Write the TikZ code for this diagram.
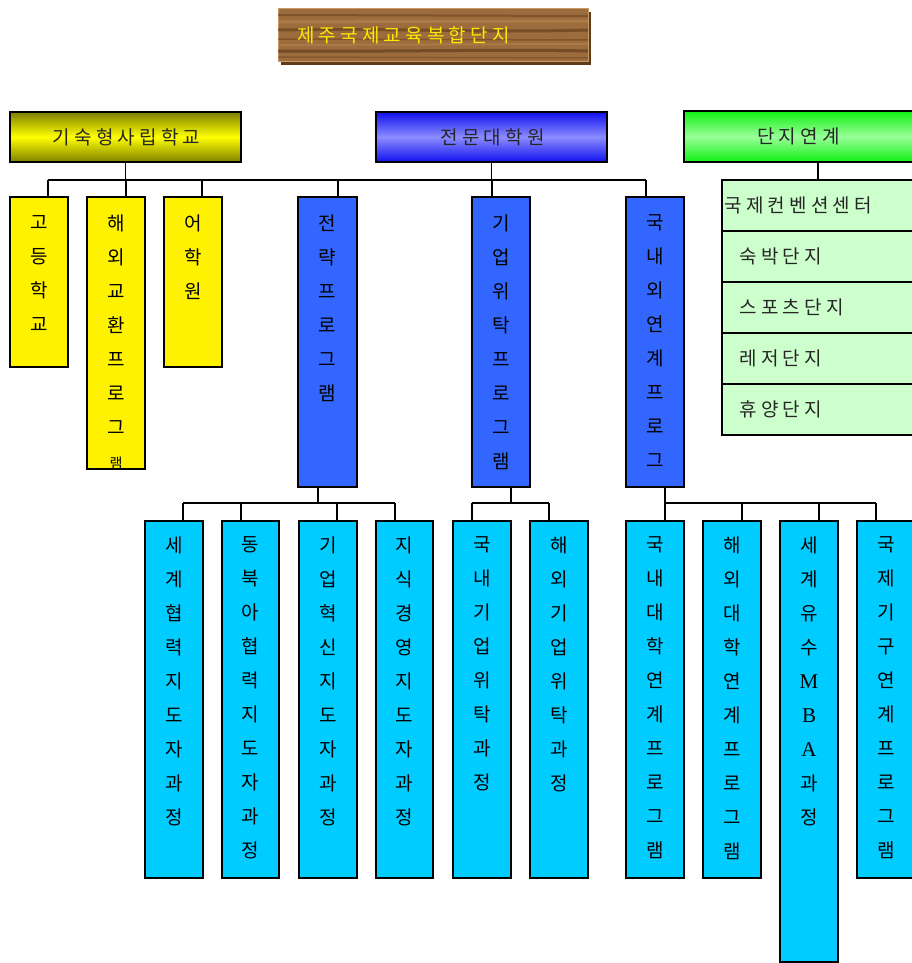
\documentclass[tikz,border=0pt]{standalone}
\usepackage{fontspec}
\setmainfont{Noto Sans CJK KR}
\newfontfamily\latfont{Liberation Serif}
\usetikzlibrary{calc,shadows}
\definecolor{wood}{HTML}{9C6C3C}
\definecolor{wooddark}{HTML}{5E3B1C}
\definecolor{woodlight}{HTML}{C89A66}
\definecolor{olivey}{HTML}{808000}
\definecolor{blueedge}{HTML}{1010F0}
\definecolor{bluemid}{HTML}{8C8CFF}
\definecolor{greenedge}{HTML}{11F011}
\definecolor{greenmid}{HTML}{99FF99}
\definecolor{bluebox}{HTML}{3366FF}
\definecolor{cyanbox}{HTML}{00CCFF}
\definecolor{rowgreen}{HTML}{CCFFCC}
\newcommand\mkbox[6]{\node[#6, minimum width={#4-#2}, minimum height={#5-#3}] (#1) at ({(#2+#4)/2},{(#3+#5)/2}) {};}
\newcommand\latch[1]{{\latfont\fontsize{21}{34}\selectfont #1}}
\begin{document}
\begin{tikzpicture}[x=1pt,y=-1pt,
  boxbase/.style={draw=black, line width=1.3pt, inner sep=0pt, rectangle},
  ybox/.style={boxbase, fill=yellow},
  bbox/.style={boxbase, fill=bluebox},
  cbox/.style={boxbase, fill=cyanbox},
  greenrow/.style={boxbase, fill=rowgreen},
  topy/.style={boxbase, top color=olivey, bottom color=olivey, middle color=yellow},
  topb/.style={boxbase, top color=blueedge, bottom color=blueedge, middle color=bluemid},
  topg/.style={boxbase, top color=greenedge, bottom color=greenedge, middle color=greenmid},
  htext/.style={inner sep=0pt, text=black!85, font=\fontsize{19}{22}\selectfont\addfontfeature{LetterSpace=22}},
  vtext/.style={inner sep=0pt, anchor=north, align=center, font=\fontsize{19}{34}\selectfont},
  conn/.style={draw=black, line width=1.3pt}
]
\useasboundingbox (0,0) rectangle (912,963);
\clip (0,0) rectangle (912,963);

% title
\node[draw=woodlight, line width=1pt, fill=wood, minimum width=310, minimum height=53, inner sep=0pt,
      drop shadow={shadow xshift=3pt, shadow yshift=-3pt, fill=wooddark, opacity=1}] (title) at (433,35.5) {};
\begin{scope}
  \clip (title.south west) rectangle (title.north east);
  \draw[wooddark, line width=2pt, opacity=0.5] (278,15) -- (588,16);
  \draw[woodlight, line width=3pt, opacity=0.35] (278,22) -- (588,21);
  \draw[wooddark, line width=3pt, opacity=0.6] (278,30) .. controls (400,28) and (480,33) .. (588,30);
  \draw[wooddark, line width=1.5pt, opacity=0.45] (278,39) -- (588,40);
  \draw[woodlight, line width=2pt, opacity=0.3] (278,45) -- (588,44);
  \draw[wooddark, line width=3pt, opacity=0.65] (278,51) .. controls (380,52) and (500,49) .. (588,51);
  \draw[wooddark, line width=1.5pt, opacity=0.4] (278,57) -- (588,58);
\end{scope}
\node[inner sep=0pt, anchor=west, text=yellow!90!orange, font=\fontsize{19}{22}\selectfont\addfontfeature{LetterSpace=22}] (titletext) at (297,35.5) {제주국제교육복합단지};

% top row
\mkbox{T1}{10}{112}{241}{162}{topy}
\mkbox{T2}{376}{112}{607}{162}{topb}
\mkbox{T3}{684}{111}{915}{162}{topg}
\node[htext] (T1t) at ([xshift=1pt]T1.center) {기숙형사립학교};
\node[htext] (T2t) at ([xshift=1pt]T2.center) {전문대학원};
\node[htext] (T3t) at ([xshift=-1pt]T3.center) {단지연계};

% second row
\mkbox{Y1}{10}{197}{68}{367}{ybox}
\mkbox{Y2}{87}{197}{145}{469}{ybox}
\mkbox{Y3}{164}{197}{222}{367}{ybox}
\mkbox{B1}{298}{197}{357}{487}{bbox}
\mkbox{B2}{472}{197}{530}{487}{bbox}
\mkbox{B3}{626}{197}{684}{487}{bbox}

\node[vtext] (Y1t) at ($(Y1.north)+(0,18.5)$) {고\\등\\학\\교};
\node[vtext] (Y2t) at ($(Y2.north)+(0,18.5)$) {해\\외\\교\\환\\프\\로\\그\\{\fontsize{14}{34}\selectfont 램}};
\node[vtext] (Y3t) at ($(Y3.north)+(0,18.5)$) {어\\학\\원};
\node[vtext] (B1t) at ($(B1.north)+(0,18.5)$) {전\\략\\프\\로\\그\\램};
\node[vtext] (B2t) at ($(B2.north)+(0,18.5)$) {기\\업\\위\\탁\\프\\로\\그\\램};
\node[vtext] (B3t) at ($(B3.north)+(0,18.5)$) {국\\내\\외\\연\\계\\프\\로\\그};

% green list
\mkbox{G1}{722}{180}{930}{231}{greenrow}
\mkbox{G2}{722}{231}{930}{282}{greenrow}
\mkbox{G3}{722}{282}{930}{333}{greenrow}
\mkbox{G4}{722}{333}{930}{384}{greenrow}
\mkbox{G5}{722}{384}{930}{435}{greenrow}
\node[htext, anchor=west] (G1t) at ($(G1.west)+(3,0)$) {국제컨벤션센터};
\node[htext, anchor=west] (G2t) at ($(G2.west)+(18,0)$) {숙박단지};
\node[htext, anchor=west] (G3t) at ($(G3.west)+(18,0)$) {스포츠단지};
\node[htext, anchor=west] (G4t) at ($(G4.west)+(18,0)$) {레저단지};
\node[htext, anchor=west] (G5t) at ($(G5.west)+(18,0)$) {휴양단지};

% third row
\mkbox{C1}{145}{521}{203}{878}{cbox}
\mkbox{C2}{222}{521}{279}{878}{cbox}
\mkbox{C3}{299}{521}{357}{878}{cbox}
\mkbox{C4}{376}{521}{433}{878}{cbox}
\mkbox{C5}{453}{521}{511}{878}{cbox}
\mkbox{C6}{530}{521}{588}{878}{cbox}
\mkbox{C7}{626}{521}{684}{878}{cbox}
\mkbox{C8}{703}{521}{761}{878}{cbox}
\mkbox{C9}{780}{521}{838}{962}{cbox}
\mkbox{C10}{857}{521}{915}{878}{cbox}

\node[vtext] (C1t) at ($(C1.north)+(0,16.5)$) {세\\계\\협\\력\\지\\도\\자\\과\\정};
\node[vtext] (C2t) at ($(C2.north)+(0,16.5)$) {동\\북\\아\\협\\력\\지\\도\\자\\과\\정};
\node[vtext] (C3t) at ($(C3.north)+(0,16.5)$) {기\\업\\혁\\신\\지\\도\\자\\과\\정};
\node[vtext] (C4t) at ($(C4.north)+(0,16.5)$) {지\\식\\경\\영\\지\\도\\자\\과\\정};
\node[vtext] (C5t) at ($(C5.north)+(0,16.5)$) {국\\내\\기\\업\\위\\탁\\과\\정};
\node[vtext] (C6t) at ($(C6.north)+(0,16.5)$) {해\\외\\기\\업\\위\\탁\\과\\정};
\node[vtext] (C7t) at ($(C7.north)+(0,16.5)$) {국\\내\\대\\학\\연\\계\\프\\로\\그\\램};
\node[vtext] (C8t) at ($(C8.north)+(0,16.5)$) {해\\외\\대\\학\\연\\계\\프\\로\\그\\램};
\node[vtext] (C9t) at ($(C9.north)+(0,16.5)$) {세\\계\\유\\수\\\latch{M}\\\latch{B}\\\latch{A}\\과\\정};
\node[vtext] (C10t) at ($(C10.north)+(0,16.5)$) {국\\제\\기\\구\\연\\계\\프\\로\\그\\램};

% connectors: level 1
\coordinate (bus1) at (0,180);
\coordinate (bus2) at (0,503);
\coordinate (dY1) at ([xshift=9pt]Y1.north);
\coordinate (dY2) at ([xshift=10pt]Y2.north);
\coordinate (dY3) at ([xshift=9pt]Y3.north);
\coordinate (dB1) at ([xshift=10.5pt]B1.north);
\coordinate (dB2) at ([xshift=-9pt]B2.north);
\coordinate (dB3) at ([xshift=-9pt]B3.north);
\draw[conn] (dY1 |- bus1) -- (dB3 |- bus1);
\draw[conn] (T1.south) -- (T1.south |- bus1);
\draw[conn] (T2.south) -- (T2.south |- bus1);
\foreach \d in {dY1,dY2,dY3,dB1,dB2,dB3} \draw[conn] (\d) -- (\d |- bus1);
\coordinate (dT3) at ([xshift=18.5pt]T3.south);
\draw[conn] (dT3) -- (dT3 |- G1.north);

% level 2
\coordinate (uB1) at ([xshift=-9.5pt]B1.south);
\coordinate (uB2) at ([xshift=10pt]B2.south);
\coordinate (uB3) at ([xshift=10pt]B3.south);
\coordinate (dC1) at ([xshift=9pt]C1.north);
\coordinate (dC2) at ([xshift=-9.5pt]C2.north);
\coordinate (dC3) at ([xshift=9pt]C3.north);
\coordinate (dC4) at ([xshift=-9.5pt]C4.north);
\coordinate (dC5) at ([xshift=-10pt]C5.north);
\coordinate (dC6) at ([xshift=-10pt]C6.north);
\coordinate (dC7) at ([xshift=10pt]C7.north);
\coordinate (dC8) at ([xshift=10pt]C8.north);
\coordinate (dC9) at ([xshift=10pt]C9.north);
\coordinate (dC10) at ([xshift=-10pt]C10.north);
\foreach \u in {uB1,uB2,uB3} \draw[conn] (\u) -- (\u |- bus2);
\foreach \d in {dC1,dC2,dC3,dC4,dC5,dC6,dC7,dC8,dC9,dC10} \draw[conn] (\d) -- (\d |- bus2);
\draw[conn] (dC1 |- bus2) -- (dC4 |- bus2);
\draw[conn] (dC5 |- bus2) -- (dC6 |- bus2);
\draw[conn] (dC7 |- bus2) -- (dC10 |- bus2);
\end{tikzpicture}
\end{document}
